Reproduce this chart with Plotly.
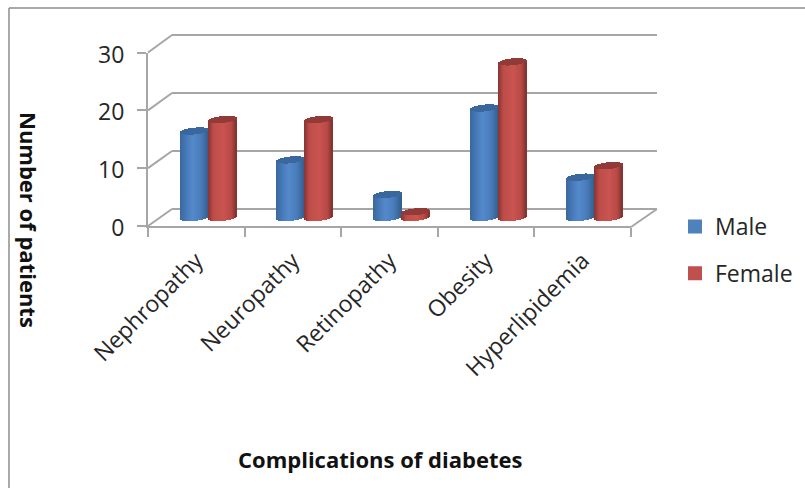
import math
import plotly.graph_objects as go

categories = ["Nephropathy", "Neuropathy", "Retinopathy", "Obesity", "Hyperlipidemia"]
male = [15, 10, 4, 19, 7]
female = [17, 17, 1, 27, 9]
y_ticks = [0, 10, 20, 30]

W, H = 805, 488
GRID = "#a6a6a6"
TEXT = "#262626"
FONT = "Open Sans"
BOLD = "Open Sans"


def px(v):
    return v / W


def py(v):
    return 1 - v / H


# pixel frames of the three planes
FX0, FX1 = 148, 631       # front axis
FY0, FY30 = 226, 52.5
BX0, BX1 = 172, 657       # back wall
BY0, BY30 = 209, 35
CX0, CX1 = 160, 643       # plane in which the cylinders stand
CY0, CY30 = 218, 45


def front_y(v):
    return FY0 + (FY30 - FY0) * v / 30


def back_y(v):
    return BY0 + (BY30 - BY0) * v / 30


def mix(a, b, t):
    return tuple(a[i] + (b[i] - a[i]) * t for i in range(3))


def shade(stops, u):
    for (u0, c0), (u1, c1) in zip(stops, stops[1:]):
        if u <= u1:
            c = mix(c0, c1, (u - u0) / (u1 - u0))
            return "rgb(%d,%d,%d)" % c
    return "rgb(%d,%d,%d)" % stops[-1][1]


BLUE_STOPS = [(-1, (58, 104, 158)), (-0.55, (72, 122, 184)), (-0.1, (84, 138, 204)),
              (0.5, (74, 124, 186)), (1, (52, 94, 142))]
RED_STOPS = [(-1, (134, 52, 50)), (-0.6, (190, 78, 74)), (0.1, (202, 84, 80)),
             (0.65, (184, 74, 70)), (1, (128, 50, 48))]
BLUE_CAP = (58, 104, 158)
RED_CAP = (146, 58, 56)

STRIPS = 28
cat_px = (CX1 - CX0) / len(categories)
unit_px = (CY0 - CY30) / 30
bar_w = 28 / cat_px
E = 3.4 / unit_px      # half height of the end ellipses
TILT = 1.4 / unit_px   # rise to the right of the ellipses


def cylinder(values, start, stops, cap_color):
    xs, offs, wid, base_b, len_b, col = [], [], [], [], [], []
    base_c, len_c, col_c = [], [], []
    for cat, v in zip(categories, values):
        for k in range(STRIPS):
            u = (k + 0.5) / STRIPS * 2 - 1
            s = math.sqrt(max(0, 1 - u * u))
            xs.append(cat)
            offs.append(start + bar_w * k / STRIPS)
            wid.append(bar_w / STRIPS)
            base_b.append(-E * s + TILT * u)
            len_b.append(v)
            col.append(shade(stops, u))
            base_c.append(v - E * s + TILT * u)
            len_c.append(2 * E * s)
            col_c.append("rgb(%d,%d,%d)" % cap_color)
    body = go.Bar(x=xs, y=len_b, base=base_b, offset=offs, width=wid,
                  marker=dict(color=col, line_width=0), xaxis="x3", yaxis="y3",
                  showlegend=False, cliponaxis=False, hoverinfo="skip")
    cap = go.Bar(x=xs, y=len_c, base=base_c, offset=offs, width=wid,
                 marker=dict(color=col_c, line_width=0), xaxis="x3", yaxis="y3",
                 showlegend=False, cliponaxis=False, hoverinfo="skip")
    return [body, cap]


fig = go.Figure()

# Invisible carriers for the front category axis and the back wall
fig.add_trace(go.Scatter(x=categories, y=[0] * len(categories), mode="lines", line_width=0,
                         showlegend=False, hoverinfo="skip"))
fig.add_trace(go.Scatter(x=categories, y=[0] * len(categories), mode="lines", line_width=0,
                         xaxis="x2", yaxis="y2", showlegend=False, hoverinfo="skip"))

for tr in cylinder(male, -bar_w, BLUE_STOPS, BLUE_CAP):
    fig.add_trace(tr)
for tr in cylinder(female, 0, RED_STOPS, RED_CAP):
    fig.add_trace(tr)

# Legend entries
fig.add_trace(go.Bar(x=[None], y=[None], name="Male", legendgroup="m",
                     marker=dict(color="#4f81bd", line=dict(color="#4f81bd", width=2)), xaxis="x3", yaxis="y3"))
fig.add_trace(go.Bar(x=[None], y=[None], name="Female", legendgroup="f",
                     marker=dict(color="#c0504d", line=dict(color="#c0504d", width=2)), xaxis="x3", yaxis="y3"))

shapes = []


def line(x0, y0, x1, y1, color=GRID, width=2):
    shapes.append(dict(type="line", xref="paper", yref="paper", layer="below",
                       x0=px(x0), y0=py(y0), x1=px(x1), y1=py(y1),
                       line=dict(color=color, width=width)))


# Picture frame
line(9, 488, 9, 8, "#8c8c8c", 1.5)
line(9, 8, 805, 8, "#8c8c8c", 1.5)

# Wall-to-axis diagonals
for v in y_ticks:
    line(FX0, front_y(v), BX0, back_y(v))
# Floor
line(BX1, back_y(0), FX1, FY0 + 1)

PAD = 1  # wall axis runs a little past 0 and 30 so that their gridlines are drawn
pad_px = (BY0 - BY30) / 30 * PAD
CPAD = 2  # cylinder axis runs past 0 so that the rounded feet are not cut off
cpad_px = unit_px * CPAD

fig.update_layout(
    width=W, height=H, margin=dict(l=0, r=0, t=0, b=0, autoexpand=False),
    paper_bgcolor="white", plot_bgcolor="rgba(0,0,0,0)",
    barmode="overlay", bargap=0,
    font=dict(family=FONT, color=TEXT, size=20),
    shapes=shapes,
    xaxis=dict(type="category", categoryorder="array", categoryarray=categories,
               range=[-0.5, 4.5], domain=[px(FX0), px(FX1)], anchor="y",
               tickson="boundaries", ticks="outside", ticklen=9, tickwidth=1.5, tickcolor=GRID,
               showline=True, linecolor=GRID, linewidth=2, showgrid=False, zeroline=False,
               tickangle=-45, ticklabelstandoff=10, tickfont=dict(size=23, family=FONT, color=TEXT)),
    yaxis=dict(range=[0, 30], domain=[py(FY0), py(FY30)], anchor="x", tickvals=y_ticks,
               ticks="outside", ticklen=9, tickwidth=1.5, tickcolor=GRID,
               showline=True, linecolor=GRID, linewidth=2, showgrid=False, zeroline=False,
               ticklabelstandoff=8, ticklabelshift=2, tickfont=dict(size=23, family=FONT, color=TEXT)),
    xaxis2=dict(type="category", categoryorder="array", categoryarray=categories,
                range=[-0.5, 4.5], domain=[px(BX0), px(BX1)], anchor="y2", visible=False),
    yaxis2=dict(range=[-PAD, 30 + PAD], domain=[py(BY0 + pad_px), py(BY30 - pad_px)], anchor="x2",
                tickvals=y_ticks, showgrid=True, gridcolor=GRID, gridwidth=2, showline=False,
                zeroline=False, ticks="", showticklabels=False),
    xaxis3=dict(type="category", categoryorder="array", categoryarray=categories,
                range=[-0.5, 4.5], domain=[px(CX0), px(CX1)], anchor="y3", visible=False),
    yaxis3=dict(range=[-CPAD, 30 + CPAD], domain=[py(CY0 + cpad_px), py(CY30 - cpad_px)],
                anchor="x3", visible=False),
    legend=dict(x=px(675), y=py(205), xanchor="left", yanchor="top", tracegroupgap=14,
                font=dict(size=23, family=FONT, color=TEXT), bgcolor="rgba(0,0,0,0)", itemwidth=30),
    annotations=[
        dict(text="<b>Number of patients</b>", xref="paper", yref="paper", x=px(29), y=py(220),
             xanchor="center", yanchor="middle",
             textangle=90, showarrow=False, font=dict(size=22, family=BOLD, color="#111111")),
        dict(text="<b>Complications of diabetes</b>", xref="paper", yref="paper", x=px(380), y=py(459),
             xanchor="center", yanchor="middle",
             showarrow=False, font=dict(size=22, family=BOLD, color="#111111")),
    ],
)

fig.write_html("out.html", post_script="document.body.style.margin='0';",
               config=dict(displayModeBar=False))
